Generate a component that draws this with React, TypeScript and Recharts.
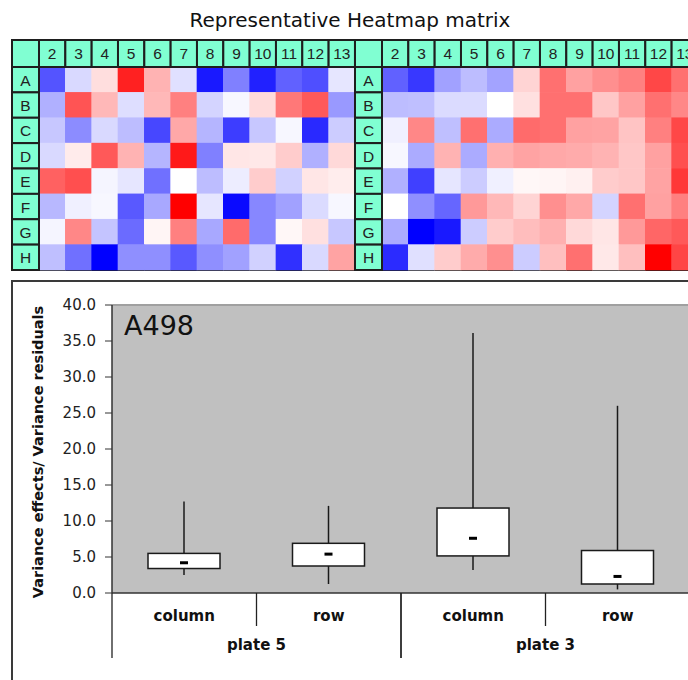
import React from 'react';
import {
  ScatterChart,
  Scatter,
  XAxis,
  YAxis,
  ComposedChart,
  Bar,
  ReferenceArea,
  ReferenceLine,
} from 'recharts';

// ---------------- data ----------------
const columnLabels = ['2', '3', '4', '5', '6', '7', '8', '9', '10', '11', '12', '13'];
const rowLabels = ['A', 'B', 'C', 'D', 'E', 'F', 'G', 'H'];

// heatmap values: -1 = full blue, 0 = white, 1 = full red
const leftHeatmap = [
  [-0.67, -0.15, 0.13, 0.87, 0.3, -0.12, -0.9, -0.5, -0.87, -0.62, -0.69, -0.1],
  [-0.31, 0.67, 0.28, -0.13, 0.28, 0.5, -0.17, -0.03, 0.14, 0.53, 0.65, -0.4],
  [-0.22, -0.45, -0.15, -0.26, -0.72, 0.34, -0.29, -0.76, -0.22, -0.03, -0.84, -0.2],
  [-0.15, 0.08, 0.65, 0.3, -0.29, 0.9, -0.5, 0.1, 0.09, 0.2, -0.31, 0.15],
  [0.62, 0.69, -0.04, -0.1, -0.56, 0, -0.26, -0.07, 0.2, -0.18, 0.1, 0.07],
  [-0.28, -0.06, -0.03, -0.65, -0.34, 1.0, -0.1, -0.96, -0.47, -0.37, -0.14, -0.03],
  [-0.04, 0.47, -0.23, -0.58, 0.04, 0.5, -0.34, 0.58, -0.47, 0.03, 0.12, -0.22],
  [-0.25, -0.56, -1.0, -0.44, -0.44, -0.65, -0.44, -0.37, -0.18, -0.81, -0.15, 0.36],
];

const rightHeatmap = [
  [-0.62, -0.78, -0.37, -0.26, -0.36, 0.17, 0.56, 0.37, 0.44, 0.5, 0.72, 0.56],
  [-0.26, -0.25, -0.14, -0.14, 0, 0.12, 0.56, 0.56, 0.22, 0.37, 0.56, 0.47],
  [-0.06, 0.47, -0.25, 0.56, -0.33, 0.58, 0.56, 0.37, 0.36, 0.23, 0.5, 0.72],
  [-0.03, -0.33, 0.3, -0.33, 0.31, 0.36, 0.34, 0.33, 0.3, 0.22, 0.37, 0.69],
  [-0.31, -0.75, -0.1, -0.2, -0.06, 0.03, 0.04, 0.06, 0.2, 0.22, 0.36, 0.78],
  [0, -0.44, -0.6, 0.4, 0.28, 0.17, 0.44, 0.34, -0.17, 0.56, 0.37, 0.5],
  [-0.33, -1.0, -0.9, -0.2, 0.2, 0.26, 0.31, 0.15, 0.1, 0.4, 0.6, 0.65],
  [-0.83, -0.12, 0.2, 0.33, 0.44, -0.2, 0.25, 0.56, 0.09, 0.25, 1.0, 0.73],
];

const boxCategories = ['column', 'row', 'column', 'row'];
const boxGroups = ['plate 5', 'plate 5', 'plate 3', 'plate 3'];
const boxMin = [2.5, 1.25, 3.2, 0.5];
const boxQ1 = [3.4, 3.75, 5.15, 1.25];
const boxMedian = [4.2, 5.4, 7.6, 2.3];
const boxQ3 = [5.5, 6.9, 11.8, 5.9];
const boxMax = [12.7, 12.1, 36.1, 26.0];
const yTicks = [0, 5, 10, 15, 20, 25, 30, 35, 40];

const title = 'Representative Heatmap matrix';
const panelLabel = 'A498';
const yAxisTitle = 'Variance effects/ Variance residuals';

// ---------------- heatmap ----------------
const HEAD = 27;
const CELL_W = 26.33;
const CELL_H = 25.375;
const OFF = 2;
const HEADER_FILL = '#80ffd2';
const LINE = '#1e1e1e';
const HM_FONT = '"Liberation Sans", Arial, sans-serif';

function heatColor(v: number) {
  if (v < 0) {
    const c = Math.round(255 * (1 + v));
    return `rgb(${c},${c},255)`;
  }
  const c = Math.round(255 * (1 - v));
  return `rgb(255,${c},${c})`;
}

const HeaderTick = (props: any) => {
  const { x, payload, index } = props;
  const label = columnLabels[payload.value - 1];
  return (
    <g>
      {index === 0 && (
        <rect x={OFF} y={OFF} width={HEAD} height={HEAD} fill={HEADER_FILL} stroke={LINE} strokeWidth={2} />
      )}
      <rect x={x - CELL_W / 2} y={OFF} width={CELL_W} height={HEAD} fill={HEADER_FILL} stroke={LINE} strokeWidth={2} />
      <text x={x} y={OFF + HEAD / 2 + 6} textAnchor="middle" fontSize={15.5} fontFamily={HM_FONT} fill="#222">
        {label}
      </text>
    </g>
  );
};

const RowTick = (props: any) => {
  const { y, payload } = props;
  const label = rowLabels[payload.value - 1];
  return (
    <g>
      <rect x={OFF} y={y - CELL_H / 2} width={HEAD} height={CELL_H} fill={HEADER_FILL} stroke={LINE} strokeWidth={2} />
      <text x={OFF + HEAD / 2} y={y + 6} textAnchor="middle" fontSize={15.5} fontFamily={HM_FONT} fill="#222">
        {label}
      </text>
    </g>
  );
};

const CellShape = (props: any) => {
  const { cx, cy, payload } = props;
  return (
    <rect
      x={cx - CELL_W / 2 - 0.3}
      y={cy - CELL_H / 2 - 0.3}
      width={CELL_W + 0.6}
      height={CELL_H + 0.6}
      fill={heatColor(payload.v)}
    />
  );
};

function Heatmap({ values }: { values: number[][] }) {
  const cells: { col: number; row: number; v: number }[] = [];
  values.forEach((r, ri) => r.forEach((v, ci) => cells.push({ col: ci + 1, row: ri + 1, v })));
  const w = OFF * 2 + HEAD + CELL_W * 12;
  const h = OFF * 2 + HEAD + CELL_H * 8;
  return (
    <ScatterChart width={w} height={h} margin={{ top: OFF, right: OFF, bottom: OFF, left: OFF }}>
      <XAxis
        type="number"
        dataKey="col"
        orientation="top"
        domain={[0.5, 12.5]}
        ticks={columnLabels.map((_, i) => i + 1)}
        height={HEAD}
        tickSize={0}
        tickMargin={0}
        axisLine={false}
        tickLine={false}
        tick={<HeaderTick />}
        interval={0}
      />
      <YAxis
        type="number"
        dataKey="row"
        reversed
        domain={[0.5, 8.5]}
        ticks={rowLabels.map((_, i) => i + 1)}
        width={HEAD}
        tickSize={0}
        tickMargin={0}
        axisLine={false}
        tickLine={false}
        tick={<RowTick />}
        interval={0}
      />
      <Scatter data={cells} shape={<CellShape />} isAnimationActive={false} />
      <ReferenceArea x1={0.5} x2={12.5} y1={0.5} y2={8.5} fill="none" stroke={LINE} strokeWidth={2} />
    </ScatterChart>
  );
}

// ---------------- box plot ----------------
const BOX_W = 678;
const BOX_H = 400;
const Y_AXIS_W = 100;
const X_AXIS_H = 87;
const PLOT_W = BOX_W - Y_AXIS_W;
const BAND = PLOT_W / boxCategories.length;
const BOX_FONT = '"DejaVu Sans", Verdana, sans-serif';

const boxData = boxCategories.map((c, i) => ({
  cat: c,
  group: boxGroups[i],
  min: boxMin[i],
  q1: boxQ1[i],
  median: boxMedian[i],
  q3: boxQ3[i],
  max: boxMax[i],
}));

const BoxShape = (props: any) => {
  const { x, y, width, height, payload } = props;
  const top = Math.min(y, y + height);
  const bottom = Math.max(y, y + height);
  const k = (bottom - top) / (payload.max - payload.min);
  const py = (v: number) => bottom - (v - payload.min) * k;
  const cx = x + width / 2;
  return (
    <g>
      <line x1={cx} x2={cx} y1={py(payload.max)} y2={py(payload.q3)} stroke="#1a1a1a" strokeWidth={1.5} />
      <line x1={cx} x2={cx} y1={py(payload.q1)} y2={py(payload.min)} stroke="#1a1a1a" strokeWidth={1.5} />
      <rect
        x={x}
        y={py(payload.q3)}
        width={width}
        height={py(payload.q1) - py(payload.q3)}
        fill="#ffffff"
        stroke="#1a1a1a"
        strokeWidth={1.5}
      />
      <rect x={cx - 4} y={py(payload.median) - 1.5} width={8} height={3} fill="#000" />
    </g>
  );
};

const CategoryTick = (props: any) => {
  const { x, y, payload, index } = props;
  const half = BAND / 2;
  const first = index % 2 === 0;
  return (
    <g>
      <text x={x} y={y + 28} textAnchor="middle" fontSize={15} fontWeight="bold" fontFamily={BOX_FONT} fill="#111">
        {payload.value}
      </text>
      {first && <line x1={x - half} x2={x - half} y1={y} y2={y + 65} stroke="#222" strokeWidth={1.3} />}
      {first && <line x1={x + half} x2={x + half} y1={y} y2={y + 33} stroke="#222" strokeWidth={1.3} />}
      {first && (
        <text x={x + half} y={y + 57} textAnchor="middle" fontSize={15} fontWeight="bold" fontFamily={BOX_FONT} fill="#111">
          {boxGroups[index]}
        </text>
      )}
      {!first && <line x1={x + half} x2={x + half} y1={y} y2={y + 65} stroke="#222" strokeWidth={1.3} />}
    </g>
  );
};

const YTitle = (props: any) => {
  const vb = props.viewBox || { x: 0, y: 25, width: Y_AXIS_W, height: 288 };
  const cx = vb.x + 26;
  const cy = vb.y + vb.height / 2 + 3;
  return (
    <text
      x={cx}
      y={cy}
      transform={`rotate(-90, ${cx}, ${cy})`}
      textAnchor="middle"
      dominantBaseline="central"
      fontSize={14.5}
      fontWeight="bold"
      fontFamily={BOX_FONT}
      fill="#111"
    >
      {yAxisTitle}
    </text>
  );
};

const PanelTitle = (props: any) => {
  const vb = props.viewBox || { x: Y_AXIS_W, y: 25 };
  return (
    <text x={vb.x + 12} y={vb.y + 30} fontSize={27} fontFamily={BOX_FONT} fill="#111">
      {panelLabel}
    </text>
  );
};

function BoxPlot() {
  return (
    <ComposedChart width={BOX_W} height={BOX_H} data={boxData} margin={{ top: 25, right: 0, bottom: 0, left: 0 }}>
      <XAxis
        dataKey="cat"
        height={X_AXIS_H}
        tickSize={0}
        tickMargin={0}
        tickLine={false}
        axisLine={{ stroke: '#333', strokeWidth: 1.5 }}
        tick={<CategoryTick />}
        interval={0}
      />
      <YAxis
        type="number"
        domain={[0, 40]}
        ticks={yTicks}
        width={Y_AXIS_W}
        tickSize={7}
        tickMargin={9}
        tickFormatter={(v: number) => v.toFixed(1)}
        tick={{ fontSize: 15, fontFamily: BOX_FONT, fill: '#222' }}
        tickLine={{ stroke: '#333' }}
        axisLine={{ stroke: '#333', strokeWidth: 1.5 }}
        label={<YTitle />}
      />
      <ReferenceArea y1={0} y2={40} fill="#c0c0c0" fillOpacity={1} stroke="none" label={<PanelTitle />} />
      <ReferenceLine y={40} stroke="#a0a0a0" strokeWidth={2} />
      <Bar
        dataKey={(d: any) => [d.min, d.max]}
        barSize={72}
        shape={<BoxShape />}
        isAnimationActive={false}
      />
    </ComposedChart>
  );
}

export default function App() {
  return (
    <div
      style={{
        position: 'absolute',
        left: 0,
        top: 0,
        width: 688,
        height: 680,
        overflow: 'hidden',
        background: '#fff',
      }}
    >
      <div
        style={{
          position: 'absolute',
          left: 0,
          top: 8,
          width: 700,
          textAlign: 'center',
          fontFamily: BOX_FONT,
          fontSize: 20,
          lineHeight: '24px',
          color: '#111',
        }}
      >
        {title}
      </div>
      <div style={{ position: 'absolute', left: 10, top: 38 }}>
        <Heatmap values={leftHeatmap} />
      </div>
      <div style={{ position: 'absolute', left: 353, top: 38 }}>
        <Heatmap values={rightHeatmap} />
      </div>
      <div
        style={{
          position: 'absolute',
          left: 11,
          top: 280,
          width: 720,
          height: 420,
          borderLeft: '2px solid #3a3a3a',
          borderTop: '2px solid #3a3a3a',
        }}
      />
      <div style={{ position: 'absolute', left: 12, top: 280 }}>
        <BoxPlot />
      </div>
    </div>
  );
}
